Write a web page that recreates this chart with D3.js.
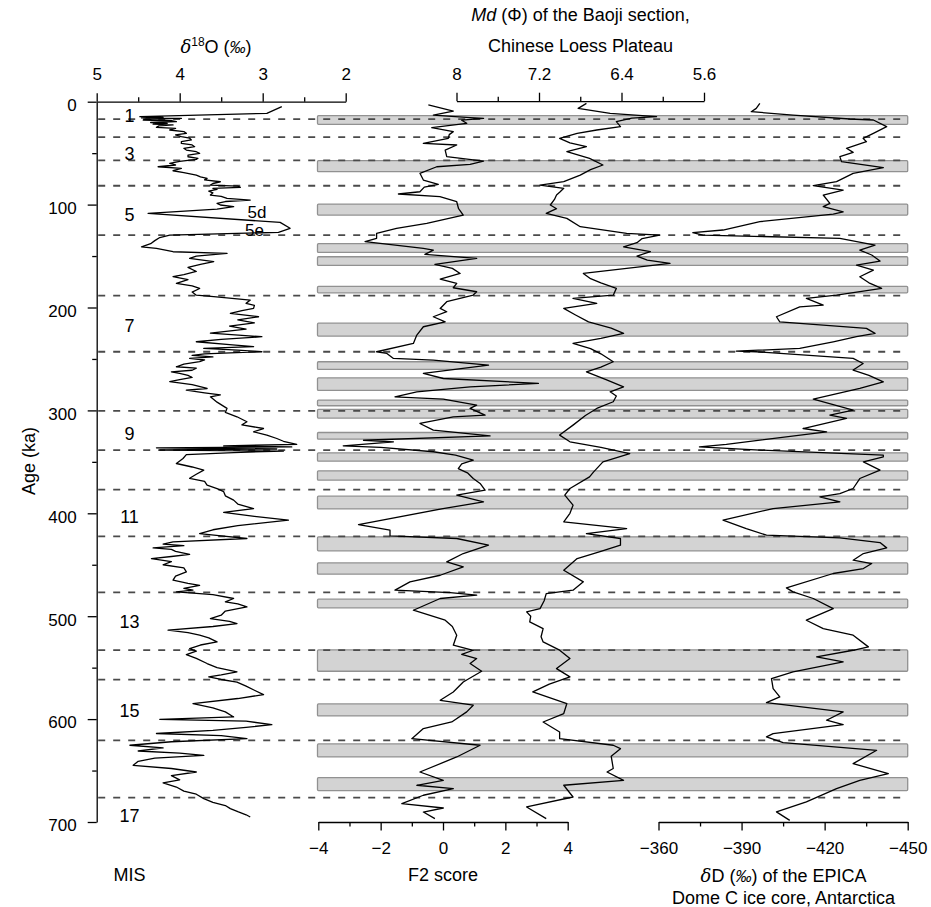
<!DOCTYPE html>
<html><head><meta charset="utf-8">
<script src="https://cdn.jsdelivr.net/npm/d3@7/dist/d3.min.js"></script>
<style>
html,body{margin:0;padding:0;background:#fff;}
svg text{font-family:"Liberation Sans",Arial,Helvetica,sans-serif;fill:#000;}
</style></head>
<body>
<svg id="chart" width="931" height="907"></svg>
<script>
// ---------- DATA ----------
// delta18O (permil) benthic stack: age (ka) and value
const d18oAge = [4.8,11.3,14.6,15.2,15.8,16.2,17.0,17.8,18.5,19.4,20.2,21.0,21.8,22.6,23.5,24.9,26,27.5,29,30.8,32.3,34,35.5,37.2,38.8,40.5,42,43.7,45.3,47,48.6,50.2,52,53.5,55,56,58,60,61.5,63.2,64.8,67.1,69,71.3,73,74.5,76,77.8,79.5,81,82,83.3,84.2,85.2,87,88.5,90.7,92,94,95.6,97,98.8,100.4,102,104.3,108.5,117.3,123,127,129.6,132,135,138,141,142.6,145.8,147.4,150,152.3,155.5,158,161,165,168,170,173,176.6,179,181.5,185,188,189.5,192.8,196,198,200.9,203,205.8,209,212,215,218,221,225,228.4,231,233.3,236,238,239.8,241.5,243,245,246.5,248,249.5,251,252.7,255,257.6,259,261,262.5,264,266,268,270,272,275,278.7,280.3,283,285,286.8,292,298,302,306.2,311,314,317.6,320.8,324,327.3,330,333,334.5,335.5,336.4,337.5,338.5,339.5,341,343,346.7,351.6,355,358,362,366,369,372.7,376,379,383,387.2,391,395.4,399.2,403,406.7,412,416,419.7,422,424.5,427.8,430,431.5,433.6,435,437,440,442,444,447,450,453,457,461,465,468,470,473,474.7,476.4,479,482.8,486,488,491,495,499,502.3,505,507.2,510,513.6,516,518.5,521,525,528,531.5,534,537.3,541,546,550,554,557,559,561.5,564,568,572,576.2,580,585,589,593,597.9,600.2,602,605.4,608,611,614,616,619,622,625.4,628,631,633,635.2,638,641,644.9,648,651.4,655,659,662,666,670,673,677.3,681,684,687,690,693,695.1];
const d18oVal = [2.77,2.95,4.48,4.2,4.46,3.98,4.40,4.44,4.1,4.04,4.35,4.15,4.32,4.08,4.25,4.28,4.05,4.12,3.95,3.92,4.05,3.98,3.88,3.86,3.98,3.98,3.85,3.82,3.95,3.92,3.8,3.76,3.9,3.9,3.78,3.80,4.0,4.12,4.05,4.26,3.98,4.08,3.95,3.80,3.75,3.67,3.7,3.51,3.6,3.63,3.3,3.27,3.6,3.55,3.65,3.6,3.63,3.5,3.43,3.15,3.45,3.55,3.51,3.35,3.55,4.38,2.79,2.67,2.81,4.12,4.24,4.3,4.35,4.46,4.28,4.08,3.43,3.8,3.88,3.59,3.75,3.9,3.8,3.95,4.08,3.9,4.04,3.85,3.76,3.85,3.8,3.59,3.15,3.2,3.1,3.11,3.25,3.39,3.05,3.3,3.1,3.4,3.2,3.63,3.01,3.5,3.8,3.4,3.11,3.71,3.3,3.01,3.7,3.85,3.6,3.88,3.7,3.76,3.95,4.04,3.8,3.85,4.1,4.0,3.9,3.85,4.0,4.12,3.85,3.67,3.92,3.7,3.51,3.63,3.55,3.43,3.45,3.31,3.19,3.25,2.99,3.11,2.95,2.83,2.75,2.59,3.47,2.65,4.28,2.83,4.24,2.75,3.35,3.92,3.96,4.04,3.85,3.71,3.8,3.88,3.7,3.67,3.55,3.47,3.45,3.35,3.3,3.11,3.47,3.1,2.69,3.3,3.6,3.76,3.5,3.19,4.08,4.2,3.95,4.32,4.1,4.05,3.88,4.1,4.34,4.1,4.2,3.95,3.92,4.05,4.08,3.9,3.76,3.95,3.84,4.04,3.6,3.35,3.45,3.3,3.19,3.45,3.5,3.63,3.4,3.31,3.6,4.14,3.9,3.76,3.65,3.55,3.75,3.88,3.8,3.92,3.8,3.67,3.55,3.31,3.5,3.65,3.5,3.31,3.2,3.1,2.99,3.3,3.84,3.6,3.45,3.35,4.24,3.2,2.89,3.2,3.6,4.28,3.5,3.19,4.1,4.6,4.2,4.5,4.0,3.71,4.3,4.5,4.56,4.1,3.8,4.1,4.0,4.2,4.04,3.95,3.8,3.71,3.6,3.45,3.39,3.3,3.2,3.15];

// F2 score of the Baoji section
const f2Age = [3.2,9.1,13,15.5,16.2,18,21,25.2,29.1,32,35.6,40.5,42.1,47,53.4,57.7,60.9,63.2,69.6,76.1,80.3,83,87.5,89.7,92.3,97.2,104,110.2,118.3,123.1,128,132.8,136,142.6,144.2,148.4,152.3,158.1,162,166.9,172.4,176.6,180.8,184.7,187.9,194.4,200.9,204.1,209,213.9,218.7,226.8,234.9,243,244.6,249.5,251.1,256,264.1,269,273.8,277.1,281.9,286.8,289,294.9,298.1,304.6,306.2,312.7,319.2,324.7,329,330.5,334.4,336,340.2,343.5,348.4,352,356.5,361,366.2,371,377.5,382.4,388.9,395.4,410.9,416.4,421.9,424.5,431,439.1,447.2,452.1,460.2,466.6,474.7,477,479.6,482.8,494.2,503.9,510,518.5,528.2,533.1,537,541.2,546,553.5,563.9,573.6,581.7,586.5,593,602.8,609.2,619,625.4,636.8,651.4,659.5,664.3,667.6,674,682.2,686.4,690.3,696.7];
const f2Val = [-0.47,0.33,-0.31,0.87,1.3,0.6,0.76,-0.36,0.33,0.2,0.17,-0.63,0.44,0.07,0.12,1.3,0.87,-0.2,-0.74,-0.63,-0.15,-0.6,-0.74,-1.43,-0.1,0.44,0.5,0.65,-0.52,-1.49,-2.13,-2.13,-2.5,-0.63,-0.31,-0.58,1.08,-0.26,0.3,0.55,-0.09,0.44,0.33,1.08,0.97,0.12,-0.09,0.12,-0.31,0.07,-0.63,-0.84,-0.95,-2.13,-1.8,-1.59,-0.31,1.46,-0.63,0.01,3.06,0.87,-0.84,-1.54,0.01,1.08,0.87,1.35,0.33,-0.74,-0.31,1.51,-2.55,-1.59,-3.2,-2.0,-0.31,0.4,0.97,0.6,0.49,0.8,0.97,1.19,1.35,0.44,1.3,0.0,-2.71,-1.7,-1.7,0.44,1.46,0.65,0.12,0.65,-0.09,-1.06,-1.54,0.23,1.08,-0.09,-0.95,0.07,0.3,0.44,0.33,0.97,0.6,1.08,0.87,1.24,0.65,0.33,-0.09,0.97,0.76,0.28,-0.63,-1.0,1.19,0.44,-0.74,0.01,-0.84,0.33,-0.63,-1.32,0.01,-0.63,-0.26];

// Md (phi) of the Baoji section
const mdAge = [1.6,6.5,11.3,14.6,16,19.4,24.3,27.5,30.8,35.6,40,43.7,48.6,55,61.5,66,71.3,77.7,81,84.2,88,90.7,95,100.4,104,108.5,113.4,121.5,128,129.6,133,137,141,145.8,150,154,157.1,162,166.9,172,176,181.4,188,191.2,196,200.9,207,213.9,220,225.2,230,234.9,240,245,252.7,258,262.5,270,277.1,281.9,286,291.6,298.1,305,314.3,324,330.5,336,341.9,350,359.7,364.6,375.9,382.4,392.1,400,408.3,414.8,419.7,424.5,431,437,444,455.3,466.6,474.7,478,485,492.6,495.8,500,505.5,512,520,525,533,541.2,550.9,559,566,573.6,584.9,594.6,602.8,612.5,619,625.4,628.7,636,648,651.4,659.5,664.3,675.7,685.4,696.7];
const mdVal = [6.74,6.82,6.51,6.06,6.3,6.45,6.41,6.64,6.83,7.0,6.9,6.74,6.93,6.71,6.58,6.7,6.8,6.96,7.19,6.96,7.0,7.03,7.05,7.09,7.03,7.13,6.93,6.8,6.35,6.03,6.2,6.25,6.38,6.12,6.25,6.15,5.93,6.35,6.77,6.7,6.6,6.45,6.48,6.87,6.64,6.96,6.85,6.72,6.5,6.38,6.6,6.87,6.7,6.6,6.48,6.6,6.74,6.55,6.38,6.51,6.45,6.48,6.64,6.75,6.87,7.0,6.9,6.6,6.32,6.58,6.67,6.71,6.9,6.95,6.87,6.9,6.96,6.35,6.74,6.41,6.41,6.6,6.83,6.96,6.77,6.87,7.13,7.15,7.19,7.32,7.28,7.29,7.16,7.18,7.16,7.0,6.9,7.03,6.9,7.1,7.26,6.93,6.96,7.16,7.0,7.0,6.48,6.41,6.5,6.48,6.54,6.38,6.96,6.87,7.32,7.13];

// deltaD (permil) of the EPICA Dome C ice core
const dDAge = [1.6,6.5,9.7,13,16.8,17.8,24.3,30.8,35.6,38.9,45.3,49.2,53.4,58.3,64.1,69.6,77.7,81.6,85.9,90.7,98.8,102,107,109.2,116.6,124.7,127.3,129.6,132.8,139.3,144.2,149,154.9,158.8,163.6,170.1,176,181.4,187.9,191.2,197.7,199.3,209,213.9,220.3,225.2,228.4,233.3,239.8,242.4,243,249.5,254.4,260.8,266,272.2,278.7,289,299.7,304.6,307.8,317.6,320.8,333.1,335.4,338.6,343.5,345.1,350,358,366.2,375.9,380.8,384,388.9,395.4,406.7,414.8,421.3,423.9,428.4,433.6,439.1,445.6,448.8,453.7,458.5,472.5,476.4,482.8,492.6,503.9,512,518.5,529.8,533.1,539.6,544.4,554.1,560.6,570.3,578.4,584,593,601.1,605.3,614.1,617.3,622.8,630.3,643.3,653,659.5,667.6,680.5,690.2,698.4];
const dDVal = [-396.6,-395.3,-393.5,-408.6,-429.1,-437.6,-442.4,-437.6,-433.9,-435.1,-427.9,-430.3,-425.5,-426.1,-441.2,-430.3,-424.3,-415.9,-426.7,-419.5,-421.9,-419.5,-426.7,-423.1,-396.6,-383.3,-372.4,-376,-425.5,-438.2,-432.7,-437,-440,-431.5,-437.6,-432.7,-436,-440.6,-424.3,-413.4,-419.5,-411,-402.6,-403.8,-435.1,-438.2,-431.5,-423.1,-411,-388.1,-395.3,-430.3,-433.9,-430.3,-436,-441.2,-432.7,-415.9,-430.3,-421.9,-427.9,-412.2,-420.7,-384.5,-374.8,-396.6,-441.2,-441.2,-434,-440,-432.7,-430.3,-425.5,-418.3,-425.5,-401.4,-383.3,-391.7,-399,-425.5,-440,-442.4,-434,-430.3,-437,-434,-423.1,-406.2,-408.6,-415.9,-423.1,-413.4,-419.5,-430.3,-435.8,-430.3,-417.1,-426.7,-408.6,-400.8,-401.4,-403.8,-399,-426.7,-420.7,-426.7,-401.4,-399,-405,-438.8,-430.3,-443,-432.7,-424.3,-413.4,-402.6,-407.4];

// Grey bands (age ranges, ka)
const bandStart = [13.6,57.3,99.5,138,150.7,179.5,215.2,252.7,268.3,290,299.1,321.5,341.2,358.7,383.4,422.9,448.2,483.5,532.8,585.3,624.1,656.9];
const bandEnd   = [22.0,68.0,110.2,146.5,159.1,185.7,227.8,260.2,280.6,295.5,307.5,328,349.3,367.8,395.7,436.5,459.2,491.9,553.5,596.9,636.8,669.5];

// MIS boundaries (ka)
const misBounds = [17,34.5,57,81.7,129.7,188.5,243,300.5,338.7,377,422.4,476.8,533,561.7,620.7,676.4];
// MIS stage labels and their ages
const misLabels = ["1","3","5","7","9","11","13","15","17"];
const misLabelAge = [13.4,50.8,109.7,217.5,322,403.4,505.3,591.3,693.5];
// substage labels
const subLabels = ["5d","5e"];
const subLabelAge = [107.2,124.8];
const subLabelVal = [3.07,3.1];

// Tick values
const ageTicks = [0,100,200,300,400,500,600,700];
const ageMinor = [50,150,250,350,450,550,650];
const d18oTicks = [5,4,3,2];
const d18oMinor = [4.5,3.5,2.5];
const mdTicks = [8,7.2,6.4,5.6];
const mdMinor = [7.6,6.8,6.0];
const f2Ticks = [-4,-2,0,2,4];
const f2Minor = [-3,-1,1,3];
const dDTicks = [-360,-390,-420,-450];
const dDMinor = [-375,-405,-435];

// ---------- SCALES ----------
const svg = d3.select("#chart");
const y = d3.scaleLinear().domain([0,700]).range([101.7,822]);
const xO = d3.scaleLinear().domain([5,2]).range([96.7,345.7]);
const xMd = d3.scaleLinear().domain([8,5.6]).range([456.5,704]);
const xF2 = d3.scaleLinear().domain([-4,4]).range([318.3,567.7]);
const xD = d3.scaleLinear().domain([-360,-450]).range([658.5,907.7]);
const minus = v => String(v).replace("-", "\u2212");
const FS = 17, TS = 18;

// ---------- BANDS ----------
const bandX0 = xF2(-4) - 0.8, bandX1 = xD(-450);
svg.append("g").selectAll("rect").data(bandStart).join("rect")
  .attr("x", bandX0).attr("width", bandX1 - bandX0)
  .attr("y", (d) => y(d))
  .attr("height", (d,i) => y(bandEnd[i]) - y(d))
  .attr("rx", 1)
  .attr("fill", "#d3d3d3").attr("stroke", "#919191").attr("stroke-width", 1.3);

// ---------- DASHED MIS BOUNDARIES ----------
svg.append("g").selectAll("line").data(misBounds).join("line")
  .attr("x1", xO(5) + 1.5).attr("x2", xD(-450) - 2)
  .attr("y1", d => y(d)).attr("y2", d => y(d))
  .attr("stroke", "#4a4a4a").attr("stroke-width", 1.8)
  .attr("stroke-dasharray", "7,8");

// ---------- CURVES ----------
function curve(ages, vals, xs) {
  const line = d3.line().x(d => xs(d[1])).y(d => y(d[0]));
  svg.append("path").datum(ages.map((a,i) => [a, vals[i]]))
    .attr("d", line).attr("fill", "none")
    .attr("stroke", "#000").attr("stroke-width", 1.3)
    .attr("stroke-linejoin", "round");
}
curve(d18oAge, d18oVal, xO);
curve(f2Age, f2Val, xF2);
curve(mdAge, mdVal, xMd);
curve(dDAge, dDVal, xD);

// ---------- AXES ----------
function styleAxis(g) {
  g.selectAll("path.domain").attr("stroke", "#000").attr("stroke-width", 1.3);
  g.selectAll(".tick line").attr("stroke", "#000").attr("stroke-width", 1.3);
  g.selectAll(".tick text").attr("font-size", FS).attr("font-family", '"Liberation Sans",Arial,sans-serif').attr("fill", "#000");
}
function hAxis(gen, scale, major, minor, ypos, fmt, pad) {
  const gm = svg.append("g").attr("transform", `translate(0,${ypos})`)
    .call(gen(scale).tickValues(minor).tickSize(4.5).tickSizeOuter(0).tickFormat(""));
  styleAxis(gm);
  gm.select("path.domain").remove();
  const g = svg.append("g").attr("transform", `translate(0,${ypos})`)
    .call(gen(scale).tickValues(major).tickSize(8.5).tickSizeOuter(0).tickFormat(fmt).tickPadding(pad));
  styleAxis(g);
  return g;
}
hAxis(d3.axisTop, xO, d18oTicks, d18oMinor, y(0), d => String(d), 13);
hAxis(d3.axisTop, xMd, mdTicks, mdMinor, y(0) - 0.5, d => String(d), 13);
hAxis(d3.axisBottom, xF2, f2Ticks, f2Minor, y(700), minus, 11);
hAxis(d3.axisBottom, xD, dDTicks, dDMinor, y(700), minus, 11);

// left age axis
{
  const gm = svg.append("g").attr("transform", `translate(${xO(5)},0)`)
    .call(d3.axisLeft(y).tickValues(ageMinor).tickSize(4.5).tickSizeOuter(0).tickFormat(""));
  styleAxis(gm); gm.select("path.domain").remove();
  const g = svg.append("g").attr("transform", `translate(${xO(5)},0)`)
    .call(d3.axisLeft(y).tickValues(ageTicks).tickSize(9).tickSizeOuter(0).tickPadding(11));
  styleAxis(g);
  g.selectAll(".tick text").attr("dy", "0.52em");
}

// ---------- LABELS ----------
const T = (x, yy, txt, opt = {}) => {
  const t = svg.append("text").attr("x", x).attr("y", yy)
    .attr("font-size", opt.fs || TS).attr("text-anchor", opt.anchor || "middle");
  if (opt.rot) t.attr("transform", `rotate(${opt.rot},${x},${yy})`);
  if (txt) t.text(txt);
  return t;
};
// MIS stage numbers
misLabels.forEach((l, i) => T(129.5, y(misLabelAge[i]) + 6.5, l));
subLabels.forEach((l, i) => T(xO(subLabelVal[i]), y(subLabelAge[i]) + 6, l, {fs: 17}));

// delta18O title
{
  const t = T(216, 53, null);
  t.append("tspan").attr("font-style", "italic").attr("font-family", '"DejaVu Serif",serif').attr("font-size", 18).text("\u03b4");
  t.append("tspan").attr("font-size", 12).attr("dy", -7).text("18");
  t.append("tspan").attr("dy", 7).text("O (");
  t.append("tspan").attr("font-style", "italic").attr("font-size", 16).text("\u2030");
  t.append("tspan").text(")");
}
// Md title
{
  const t = T(580.5, 21, null);
  t.append("tspan").attr("font-style", "italic").text("Md");
  t.append("tspan").text(" (\u03a6) of the Baoji section,");
  T(580.5, 52, "Chinese Loess Plateau");
}
// Age axis title
T(35, 461, "Age (ka)", {rot: -90});
// bottom titles
T(129.5, 881, "MIS");
T(443, 881, "F2 score");
{
  const t = T(783.5, 882, null);
  t.append("tspan").attr("font-style", "italic").attr("font-family", '"DejaVu Serif",serif').attr("font-size", 18).text("\u03b4");
  t.append("tspan").text("D (");
  t.append("tspan").attr("font-style", "italic").attr("font-size", 16).text("\u2030");
  t.append("tspan").text(") of the EPICA");
  T(783.5, 904, "Dome C ice core, Antarctica");
}
</script>
</body></html>
